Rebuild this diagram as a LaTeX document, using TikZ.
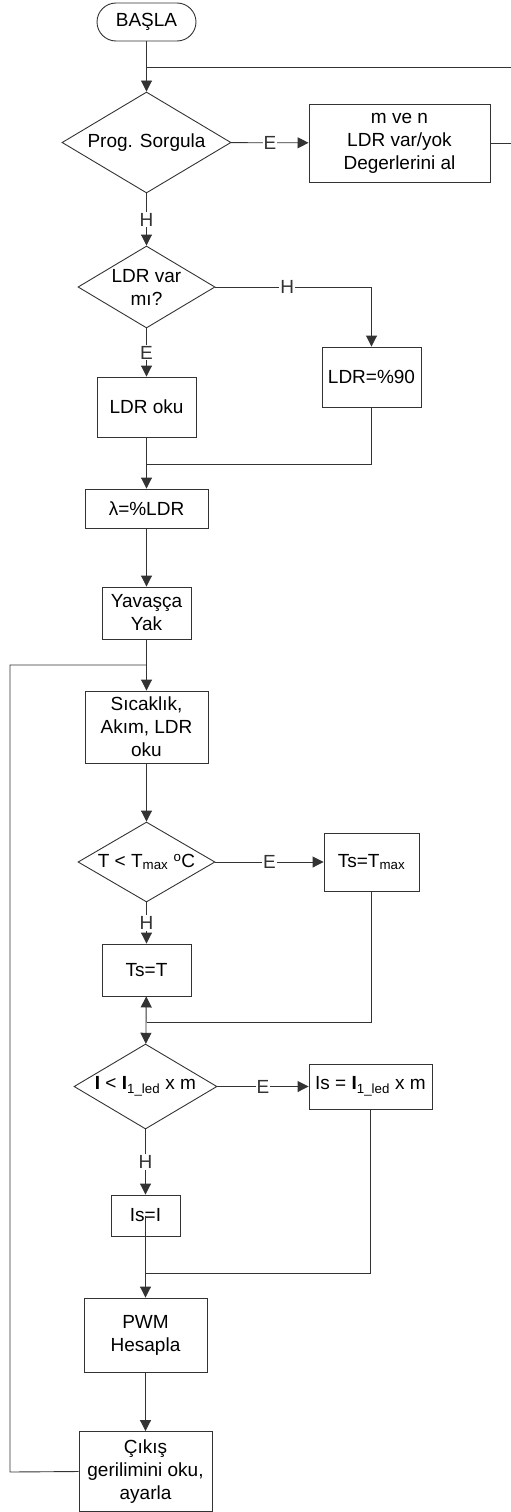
\documentclass[tikz,border=0pt]{standalone}
\usepackage{fontspec}
\setmainfont{Liberation Sans}
\usetikzlibrary{arrows.meta,shapes.geometric}
\tikzset{>={Triangle[length=11pt,width=11pt]}}
\colorlet{linecol}{black!80}
\tikzstyle{box}=[draw=linecol,line width=0.9pt,rectangle,inner sep=0pt,align=center]
\tikzstyle{decision}=[draw=linecol,line width=0.9pt,diamond,aspect=1.67,inner sep=0pt,align=center]
\tikzstyle{flow}=[->,line width=0.9pt,linecol]
\tikzstyle{joinline}=[line width=0.9pt,linecol]
\tikzstyle{lbl}=[fill=white,inner sep=1pt]

\begin{document}
\begin{tikzpicture}[x=1pt,y=-1pt,font=\fontsize{19}{23}\selectfont]
  \useasboundingbox (0,0) rectangle (511,1512);

  % START AND PROGRAM QUERY
  \node[draw=linecol,line width=0.9pt,rounded corners=19pt,minimum width=99pt,minimum height=38pt] (start) at (146.5,22) {BAŞLA};
  \node[decision,minimum width=169pt,minimum height=101pt] (prog) at (146.5,142.5) {Prog. Sorgula};
  \node[box,minimum width=181pt,minimum height=78pt] (mven) at (399.5,143) {m ve n\\LDR var/yok\\Degerlerini al};
  \coordinate (jtop) at (146.5,67); % LOOP BACK FROM m ve n
  \coordinate (rtop) at (514,67);

  % LDR
  \node[decision,minimum width=137pt,minimum height=82pt] (ldrq) at (146.5,287) {LDR var\\mı?};
  \node[box,minimum width=99pt,minimum height=60pt] (ldr90) at (371.5,377) {LDR=\%90};
  \node[box,minimum width=99pt,minimum height=60pt] (ldroku) at (146.5,407) {LDR oku};
  \coordinate (jldr) at (146.5,464);
  \node[box,minimum width=123pt,minimum height=39pt] (lambda) at (146.5,508.5) {λ=\%LDR};
  \node[box,minimum width=89pt,minimum height=52pt] (yavas) at (146.5,613) {Yavaşça\\Yak};
  \coordinate (jloop) at (146.5,665); % MAIN LOOP
  \coordinate (lbot) at (10,1472);

  % READ AND TEMPERATURE
  \node[box,minimum width=123pt,minimum height=72pt] (oku) at (146.5,727) {Sıcaklık,\\Akım, LDR\\oku};
  \node[decision,minimum width=137pt,minimum height=80pt] (tq) at (146.5,862) {T < T\textsubscript{max} \textsuperscript{o}C};
  \node[box,minimum width=95pt,minimum height=58pt] (tsmax) at (371.5,862) {Ts=T\textsubscript{max}};
  \node[box,minimum width=89pt,minimum height=52pt] (tst) at (146.5,970) {Ts=T};
  \coordinate (jts) at (146.5,1022);

  % CURRENT
  \node[decision,minimum width=143pt,minimum height=85pt] (iq) at (145.5,1086.5) {\textbf{I} < \textbf{I}\textsubscript{1\_led} x m};
  \node[box,minimum width=123pt,minimum height=45pt] (isled) at (370.5,1086.5) {Is = \textbf{I}\textsubscript{1\_led} x m};
  \node[box,minimum width=69pt,minimum height=41pt] (isi) at (145.5,1215.5) {Is=I};
  \coordinate (jis) at (145.5,1273);
  \node[box,minimum width=123pt,minimum height=74pt] (pwm) at (145.5,1335) {PWM\\Hesapla};
  \node[box,minimum width=133pt,minimum height=80pt] (cikis) at (145.5,1471.5) {Çıkış\\gerilimini oku,\\ayarla};

  % CONNECTORS
  \draw[flow] (start) -- (prog);
  \draw[joinline] (mven.east) -- (mven.east -| rtop) -- (rtop) -- (jtop);
  \draw[flow] (prog) -- node[lbl] {E} (mven);
  \draw[flow] (prog) -- node[lbl] {H} (ldrq);
  \draw[flow] (ldrq.east) -| node[lbl,pos=0.23] {H} (ldr90.north);
  \draw[flow] (ldrq) -- node[lbl] {E} (ldroku);
  \draw[flow] (ldroku) -- (lambda);
  \draw[joinline] (ldr90.south) |- (jldr);
  \draw[flow] (lambda) -- (yavas);
  \draw[flow] (yavas) -- (oku);
  \draw[joinline] (cikis.west) -- (lbot) |- (jloop);
  \draw[flow] (oku) -- (tq);
  \draw[flow] (tq) -- node[lbl] {E} (tsmax);
  \draw[flow] (tq) -- node[lbl] {H} (tst);
  \draw[flow,<->] (tst) -- (iq);
  \draw[joinline] (tsmax.south) |- (jts);
  \draw[flow] (iq) -- node[lbl] {E} (isled);
  \draw[flow] (iq) -- node[lbl] {H} (isi);
  \draw[flow] (isi.center) -- (pwm);
  \draw[joinline] (isled.south) |- (jis);
  \draw[flow] (pwm) -- (cikis);

\end{tikzpicture}
\end{document}
